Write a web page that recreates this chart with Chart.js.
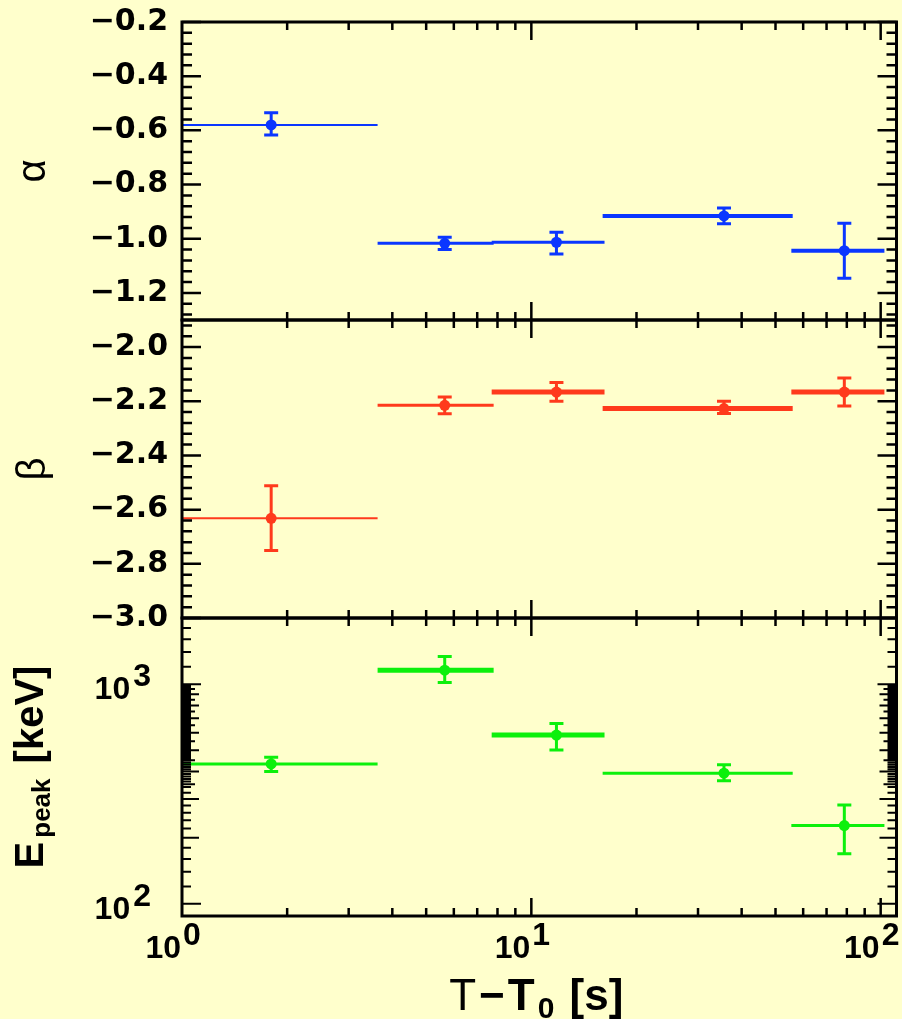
<!DOCTYPE html>
<html>
<head>
<meta charset="utf-8">
<script src="https://cdn.jsdelivr.net/npm/chart.js@4.4.1/dist/chart.umd.min.js"></script>
<style>
  html, body { margin: 0; padding: 0; background: #ffffcc; }
  #spec { display: block; }
</style>
</head>
<body>
<canvas id="spec" width="902" height="1019"></canvas>
<script>
// time bins, seconds after trigger
const binStart = [1.0, 3.63, 7.7, 16.0, 55.5];
const binEnd   = [3.63, 7.8, 16.2, 56.0, 102.5];
const tMid     = [1.8, 5.65, 11.8, 35.6, 78.7];

// low-energy photon index
const alpha    = [-0.580, -1.017, -1.013, -0.916, -1.044];
const alphaHi  = [-0.535, -0.995, -0.976, -0.887, -0.943];
const alphaLo  = [-0.617, -1.040, -1.056, -0.945, -1.146];

// high-energy photon index
const beta     = [-2.632, -2.215, -2.166, -2.227, -2.166];
const betaHi   = [-2.512, -2.184, -2.131, -2.200, -2.114];
const betaLo   = [-2.751, -2.246, -2.200, -2.245, -2.217];

// peak energy, keV
const epeak    = [433, 1158, 586, 393, 227];
const epeakHi  = [465, 1335, 662, 430, 282];
const epeakLo  = [400, 1017, 501, 363, 169];

// tick labels
const alphaTicks   = [-1.2, -1.0, -0.8, -0.6, -0.4, -0.2];
const betaTicks    = [-3.0, -2.8, -2.6, -2.4, -2.2, -2.0];
const timeDecades  = [1, 10, 100];
const epeakDecades = [100, 1000];

const BLUE = '#0a36ff', RED = '#ff3a1c', GREEN = '#0cf00c';

const panels = [
  { axis: 'yA', mid: alpha, hi: alphaHi, lo: alphaLo, color: BLUE,  binWidth: [2, 3, 3, 4, 4] },
  { axis: 'yB', mid: beta,  hi: betaHi,  lo: betaLo,  color: RED,   binWidth: [2, 3, 5, 5, 5] },
  { axis: 'yE', mid: epeak, hi: epeakHi, lo: epeakLo, color: GREEN, binWidth: [3, 5, 5, 3, 3] }
];

const AXIS_W = 182;
const tickFont = { family: '"DejaVu Sans"', size: 30, weight: 'bold' };
const minus = v => (v < 0 ? '\u2212' : '') + Math.abs(v).toFixed(1);

// fixed axis width, and no extra room reserved for overhanging labels
function fitAxis(s) {
  s.width = AXIS_W;
  s.paddingTop = 0;
  s.paddingBottom = 0;
}

function linearAxis(min, max, labels, title, weight) {
  return {
    type: 'linear', position: 'left', stack: 'panels', stackWeight: 1, weight,
    min, max,
    afterBuildTicks: s => { s.ticks = labels.map(v => ({ value: v })); },
    afterFit: fitAxis,
    grid: { display: false, drawTicks: false },
    border: { display: false },
    ticks: { color: '#000', font: tickFont, padding: 14, autoSkip: false, callback: v => minus(v) },
    title: {
      display: true, text: title, color: '#000',
      font: { family: '"Liberation Sans"', size: 40 },
      padding: { top: 10, bottom: 0 }
    }
  };
}

// horizontal bin bars and vertical error bars with caps
const errorBars = {
  id: 'errorBars',
  beforeDatasetsDraw(chart) {
    const { ctx, chartArea: a, scales } = chart;
    const x = scales.x;
    ctx.save();
    ctx.beginPath();
    ctx.rect(a.left, a.top, a.width, a.height);
    ctx.clip();
    ctx.lineCap = 'butt';
    panels.forEach(p => {
      const y = scales[p.axis];
      ctx.strokeStyle = p.color;
      tMid.forEach((t, i) => {
        const py = y.getPixelForValue(p.mid[i]);
        ctx.lineWidth = p.binWidth[i];
        ctx.beginPath();
        ctx.moveTo(x.getPixelForValue(binStart[i]), py);
        ctx.lineTo(x.getPixelForValue(binEnd[i]), py);
        ctx.stroke();

        const px = x.getPixelForValue(t);
        const yh = y.getPixelForValue(p.hi[i]);
        const yl = y.getPixelForValue(p.lo[i]);
        ctx.lineWidth = 3;
        ctx.beginPath();
        ctx.moveTo(px, yh); ctx.lineTo(px, yl);
        ctx.moveTo(px - 7, yh); ctx.lineTo(px + 7, yh);
        ctx.moveTo(px - 7, yl); ctx.lineTo(px + 7, yl);
        ctx.stroke();
      });
    });
    ctx.restore();
  }
};

// tick positions (value, length) for the inward tick marks
function linearMarks(s) {
  const out = [];
  const k0 = Math.ceil(s.min / 0.04 - 1e-6), k1 = Math.floor(s.max / 0.04 + 1e-6);
  for (let k = k0; k <= k1; k++) out.push([k * 0.04, k % 5 === 0 ? 19 : 10]);
  return out;
}
function epeakMarks() {
  const out = [[100, 19], [1000, 19]];
  for (let v = 200; v <= 900; v += 100) out.push([v, 17]);
  for (let v = 120; v < 350; v += 20) if (v % 100) out.push([v, 9]);
  for (let v = 350; v < 1000; v += 10) if (v % 100) out.push([v, v % 50 ? 9 : 13]);
  for (let v = 1200; v < 2000; v += 200) out.push([v, 9]);
  return out;
}
function timeMarks() {
  const out = [];
  [1, 10].forEach(d => {
    for (let m = 1; m <= 9; m++) out.push([m * d, m === 1 ? 18 : 8]);
  });
  out.push([100, 18]);
  return out;
}

const frame = {
  id: 'frame',
  afterDraw(chart) {
    const { ctx, chartArea: a, scales } = chart;
    const x = scales.x;
    ctx.save();
    ctx.strokeStyle = '#000';
    ctx.lineCap = 'butt';

    panels.forEach(p => {
      const y = scales[p.axis];
      const marks = p.axis === 'yE' ? epeakMarks() : linearMarks(y);
      ctx.beginPath();
      marks.forEach(([v, len]) => {
        const py = y.getPixelForValue(v);
        if (py < y.top - 0.5 || py > y.bottom + 0.5) return;
        ctx.moveTo(a.left, py); ctx.lineTo(a.left + len, py);
        ctx.moveTo(a.right, py); ctx.lineTo(a.right - len, py);
      });
      ctx.lineWidth = p.axis === 'yE' ? 2 : 2.5;
      ctx.stroke();

      ctx.beginPath();
      timeMarks().forEach(([v, len]) => {
        const px = x.getPixelForValue(v);
        if (px < a.left + 1 || px > a.right) return;
        ctx.moveTo(px, y.top); ctx.lineTo(px, y.top + len);
        ctx.moveTo(px, y.bottom); ctx.lineTo(px, y.bottom - len);
      });
      ctx.lineWidth = 2.5;
      ctx.stroke();

      ctx.lineWidth = 3;
      ctx.strokeRect(a.left, y.top, a.right - a.left, y.bottom - y.top);
    });

    ctx.restore();
  }
};

// lays out a row of text pieces centred on the origin
function drawRun(ctx, parts, spacing) {
  let w = 0;
  parts.forEach(pt => { ctx.font = pt.font; pt.w = ctx.measureText(pt.t).width; w += pt.w + spacing; });
  w -= spacing;
  let cx = -w / 2;
  ctx.textAlign = 'left';
  parts.forEach(pt => {
    ctx.font = pt.font;
    ctx.fillText(pt.t, cx, pt.dy || 0);
    cx += pt.w + spacing;
  });
}

// decade labels and the two axis titles that need sub/superscripts
const labels = {
  id: 'labels',
  afterDraw(chart) {
    const { ctx, chartArea: a, scales } = chart;
    ctx.save();
    ctx.fillStyle = '#000';
    ctx.textBaseline = 'alphabetic';
    ctx.font = 'bold 32px "Liberation Sans"';

    timeDecades.forEach(v => {
      const px = scales.x.getPixelForValue(v);
      const e = String(Math.round(Math.log10(v)));
      ctx.textAlign = 'right';
      ctx.fillText('10', px - 1, a.bottom + 42);
      ctx.textAlign = 'left';
      ctx.fillText(e, px + 1, a.bottom + 29);
    });

    const yE = scales.yE;
    epeakDecades.forEach(v => {
      const py = yE.getPixelForValue(v);
      const e = String(Math.round(Math.log10(v)));
      const right = a.left - 31;
      ctx.textAlign = 'right';
      ctx.fillText(e, right, py + 2);
      const ew = ctx.measureText(e).width;
      ctx.fillText('10', right - ew - 3, py + 15);
    });

    // E_peak [keV], rotated
    ctx.save();
    ctx.translate(43, (yE.top + yE.bottom) / 2);
    ctx.rotate(-Math.PI / 2);
    drawRun(ctx, [
      { t: 'E', font: 'bold 40px "Liberation Sans"' },
      { t: 'peak', font: 'bold 26px "Liberation Sans"', dy: 7 },
      { t: ' [keV]', font: 'bold 40px "Liberation Sans"' }
    ], 4);
    ctx.restore();

    // T - T0 [s]
    ctx.save();
    ctx.translate((a.left + a.right) / 2 - 3, a.bottom + 94);
    drawRun(ctx, [
      { t: 'T', font: '44px "Liberation Sans"' },
      { t: '\u2212', font: 'bold 44px "Liberation Sans"' },
      { t: 'T', font: 'bold 44px "Liberation Sans"' },
      { t: '0', font: 'bold 30px "Liberation Sans"', dy: 8 },
      { t: ' [s]', font: 'bold 44px "Liberation Sans"' }
    ], 3);
    ctx.restore();

    ctx.restore();
  }
};

new Chart(document.getElementById('spec'), {
  type: 'scatter',
  data: {
    datasets: panels.map(p => ({
      data: tMid.map((t, i) => ({ x: t, y: p.mid[i] })),
      yAxisID: p.axis,
      backgroundColor: p.color,
      borderColor: p.color,
      pointRadius: 5.5,
      pointHoverRadius: 5.5,
      borderWidth: 0
    }))
  },
  options: {
    responsive: false,
    animation: false,
    events: [],
    layout: { padding: { top: 22, right: 4, left: 0, bottom: 0 } },
    plugins: { legend: { display: false }, tooltip: { enabled: false } },
    scales: {
      x: {
        type: 'logarithmic', position: 'bottom', min: 1, max: 111,
        ticks: { display: false },
        grid: { display: false, drawTicks: false },
        border: { display: false },
        afterFit: s => { s.height = 103; s.paddingLeft = 0; s.paddingRight = 0; }
      },
      yA: linearAxis(-1.3, -0.2, alphaTicks, '\u03b1', 3),
      yB: linearAxis(-3.0, -1.9, betaTicks, '\u03b2', 2),
      yE: {
        type: 'logarithmic', position: 'left', stack: 'panels', stackWeight: 1, weight: 1,
        min: 88, max: 2000,
        ticks: { display: false },
        grid: { display: false, drawTicks: false },
        border: { display: false },
        afterFit: fitAxis
      }
    }
  },
  plugins: [errorBars, frame, labels]
});
</script>
</body>
</html>
